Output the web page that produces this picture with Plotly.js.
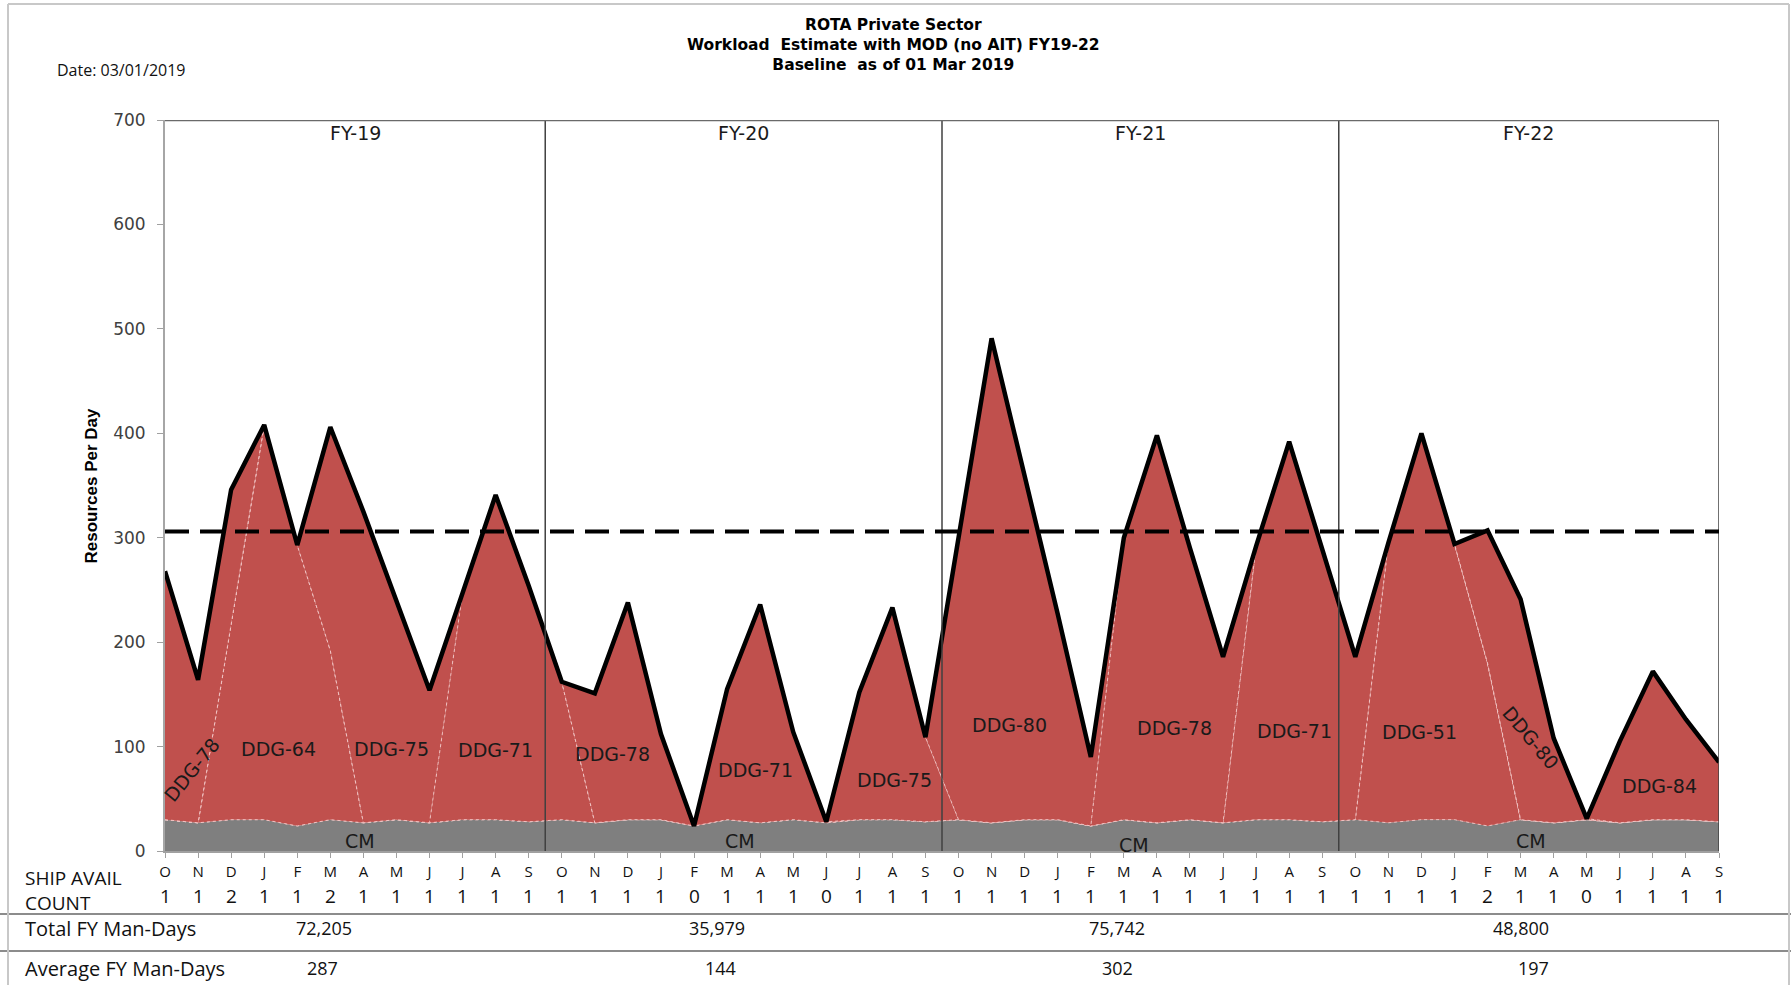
<!DOCTYPE html>
<html><head><meta charset="utf-8">
<script src="https://cdn.plot.ly/plotly-3.0.1.min.js"></script>
<style>html,body{margin:0;padding:0;background:#fff}#chart{width:1791px;height:985px}</style>
</head><body><div id="chart"></div>
<script>
// ---------------- DATA ----------------
const monthLetters = [
  'O','N','D','J','F','M','A','M','J','J','A','S',
  'O','N','D','J','F','M','A','M','J','J','A','S',
  'O','N','D','J','F','M','A','M','J','J','A','S',
  'O','N','D','J','F','M','A','M','J','J','A','S'];
const availCount = [
  1,1,2,1,1,2,1,1,1,1,1,1,
  1,1,1,1,0,1,1,1,0,1,1,1,
  1,1,1,1,1,1,1,1,1,1,1,1,
  1,1,1,1,2,1,1,0,1,1,1,1];
const totalLine = [
  268,164,346,408,293,406,325,240,154,247,341,254,
  162,151,238,112, 24,155,236,114, 28,152,233,109,
  300,491,359,227, 90,300,398,290,186,292,392,288,
  186,295,400,294,307,241,108, 31,105,172,126, 85];
const cm = [
  30,27,30,30,24,30,27,30,27,30,30,28,
  30,27,30,30,24,30,27,30,27,30,30,28,
  30,27,30,30,24,30,27,30,27,30,30,28,
  30,27,30,30,24,30,27,30,27,30,30,28];
const ddg51 = [
  0,0,0,0,0,0,0,0,0,0,0,0,
  0,0,0,0,0,0,0,0,0,0,0,0,
  0,0,0,0,0,0,0,0,0,0,0,0,
  0,268,370,264,156,0,0,0,0,0,0,0];
const ddg64 = [
  0,0,187,378,269,162,0,0,0,0,0,0,
  0,0,0,0,0,0,0,0,0,0,0,0,
  0,0,0,0,0,0,0,0,0,0,0,0,
  0,0,0,0,0,0,0,0,0,0,0,0];
const ddg71 = [
  0,0,0,0,0,0,0,0,0,217,311,226,
  132,0,0,0,0,125,209,84,1,0,0,0,
  0,0,0,0,0,0,0,0,0,262,362,260,
  156,0,0,0,0,0,0,0,0,0,0,0];
const ddg75 = [
  0,0,0,0,0,214,298,210,127,0,0,0,
  0,0,0,0,0,0,0,0,0,122,203,81,
  0,0,0,0,0,0,0,0,0,0,0,0,
  0,0,0,0,0,0,0,0,0,0,0,0];
const ddg78 = [
  238,137,129,0,0,0,0,0,0,0,0,0,
  0,124,208,82,0,0,0,0,0,0,0,0,
  0,0,0,0,0,270,371,260,159,0,0,0,
  0,0,0,0,0,0,0,0,0,0,0,0];
const ddg80 = [
  0,0,0,0,0,0,0,0,0,0,0,0,
  0,0,0,0,0,0,0,0,0,0,0,0,
  270,464,329,197,66,0,0,0,0,0,0,0,
  0,0,0,0,127,211,81,1,0,0,0,0];
const ddg84 = [
  0,0,0,0,0,0,0,0,0,0,0,0,
  0,0,0,0,0,0,0,0,0,0,0,0,
  0,0,0,0,0,0,0,0,0,0,0,0,
  0,0,0,0,0,0,0,0,78,142,96,57];
const capacity = 306;
const fiscalYears = ['FY-19','FY-20','FY-21','FY-22'];
const totalManDays = ['72,205','35,979','75,742','48,800'];
const avgManDays = ['287','144','302','197'];
const shipNames = ['DDG-51','DDG-64','DDG-71','DDG-75','DDG-78','DDG-80','DDG-84'];
const shipSeries = [ddg51, ddg64, ddg71, ddg75, ddg78, ddg80, ddg84];

// ---------------- LAYOUT HELPERS ----------------
const W = 1791, H = 985, L = 165, R = 72, T = 120, B = 134;
const plotW = W - L - R, plotH = H - T - B;
const px = v => (v - L) / plotW;
const py = v => (H - B - v) / plotH;
const xIdx = monthLetters.map((_, i) => i);

const RED = '#C0504D', GRAY = '#7F7F7F';
const sepLine = {color: 'rgba(245,205,205,0.85)', width: 1, dash: '3px,3px'};

const traces = [];
traces.push({x: xIdx, y: cm, type: 'scatter', mode: 'lines', stackgroup: 'one',
  fillcolor: GRAY, line: sepLine, name: 'CM', hoverinfo: 'skip'});
shipSeries.forEach((s, k) => traces.push({x: xIdx, y: s, type: 'scatter', mode: 'lines',
  stackgroup: 'one', fillcolor: RED, line: sepLine, name: shipNames[k], hoverinfo: 'skip'}));
traces.push({x: xIdx, y: totalLine, type: 'scatter', mode: 'lines',
  line: {color: '#000', width: 4.5}, name: 'Total', hoverinfo: 'skip'});

// label placements (layout only)
const shipLabelPos = [
  {t: 'DDG-78', x: 0.8, y: 78, a: -51},
  {t: 'DDG-64', x: 3.42, y: 98, a: 0},
  {t: 'DDG-75', x: 6.86, y: 98, a: 0},
  {t: 'DDG-71', x: 10.0, y: 97, a: 0},
  {t: 'DDG-78', x: 13.52, y: 93, a: 0},
  {t: 'DDG-71', x: 17.86, y: 78, a: 0},
  {t: 'DDG-75', x: 22.05, y: 68, a: 0},
  {t: 'DDG-80', x: 25.54, y: 121, a: 0},
  {t: 'DDG-78', x: 30.53, y: 118, a: 0},
  {t: 'DDG-71', x: 34.15, y: 115, a: 0},
  {t: 'DDG-51', x: 37.94, y: 114, a: 0},
  {t: 'DDG-80', x: 41.31, y: 108, a: 50},
  {t: 'DDG-84', x: 45.2, y: 62, a: 0}
];
const cmLabelPos = [{x: 5.9, y: 10}, {x: 17.4, y: 10}, {x: 29.3, y: 6}, {x: 41.3, y: 10}];
const fyCenters = [5.75, 17.5, 29.5, 41.25];
const totalX = [4.8, 16.7, 28.8, 41.0];
const avgX = [4.77, 16.8, 28.8, 41.4];
const dividers = [11.5, 23.5, 35.5];

const shipFont = {family: 'DejaVu Sans, sans-serif', size: 19, color: '#1a1a1a'};
const tableFont = {family: 'Open Sans, sans-serif', size: 20, color: '#111'};
const numFont = {family: 'Open Sans, sans-serif', size: 18, color: '#111'};

const annotations = [];
function ann(o) { annotations.push(Object.assign({showarrow: false, xanchor: 'center', yanchor: 'middle'}, o)); }
shipLabelPos.forEach(p => ann({x: p.x, y: p.y, xref: 'x', yref: 'y', text: p.t, textangle: p.a, font: shipFont}));
cmLabelPos.forEach(p => ann({x: p.x, y: p.y, xref: 'x', yref: 'y', text: 'CM', font: shipFont}));
fiscalYears.forEach((f, i) => ann({x: fyCenters[i], y: 688, xref: 'x', yref: 'y', text: f,
  font: {family: 'DejaVu Sans, sans-serif', size: 19, color: '#1a1a1a'}}));
availCount.forEach((c, i) => ann({x: i, y: py(896), xref: 'x', yref: 'paper', text: String(c),
  font: {family: 'Open Sans, sans-serif', size: 19, color: '#111'}}));
totalManDays.forEach((v, i) => ann({x: totalX[i], y: py(928), xref: 'x', yref: 'paper', text: v, font: numFont}));
avgManDays.forEach((v, i) => ann({x: avgX[i], y: py(968), xref: 'x', yref: 'paper', text: v, font: numFont}));
ann({x: px(23), y: py(891), xref: 'paper', yref: 'paper', xanchor: 'left', align: 'left',
  text: 'SHIP AVAIL<br>COUNT', font: {family: 'Open Sans, sans-serif', size: 19, color: '#111'}});
ann({x: px(23), y: py(928), xref: 'paper', yref: 'paper', xanchor: 'left', text: 'Total FY Man-Days', font: tableFont});
ann({x: px(23), y: py(968), xref: 'paper', yref: 'paper', xanchor: 'left', text: 'Average FY Man-Days', font: tableFont});
ann({x: px(55), y: py(70), xref: 'paper', yref: 'paper', xanchor: 'left', text: 'Date: 03/01/2019',
  font: {family: 'Open Sans, sans-serif', size: 16, color: '#111'}});
ann({x: px(91), y: 0.5, xref: 'paper', yref: 'paper', textangle: -90, text: '<b>Resources Per Day</b>',
  font: {family: 'Liberation Sans Narrow, Liberation Sans, sans-serif', size: 17, color: '#000'}});
const titleText = '<b>ROTA Private Sector</b><br><b>Workload  Estimate with MOD (no AIT) FY19-22</b><br><b>Baseline  as of 01 Mar 2019</b>';
ann({x: px(893), y: py(45), xref: 'paper', yref: 'paper', text: titleText,
  font: {family: 'DejaVu Sans, sans-serif', size: 15.5, color: '#000'}});

const shapes = [];
dividers.forEach(d => shapes.push({type: 'line', xref: 'x', yref: 'y', x0: d, x1: d, y0: 0, y1: 700,
  line: {color: '#404040', width: 1.5}}));
shapes.push({type: 'line', xref: 'x', yref: 'y', x0: 47, x1: 47, y0: 0, y1: 700,
  line: {color: '#404040', width: 1.5}});
shapes.push({type: 'line', xref: 'x', yref: 'y', x0: 0, x1: 47, y0: 700, y1: 700,
  line: {color: '#6a6a6a', width: 2.5}});
shapes.push({type: 'line', xref: 'x', yref: 'y', x0: 0, x1: 47, y0: capacity, y1: capacity,
  line: {color: '#000', width: 4, dash: '24px,11px'}});
[914, 951].forEach(v => shapes.push({type: 'line', xref: 'paper', yref: 'paper',
  x0: px(0), x1: px(W), y0: py(v), y1: py(v), line: {color: '#8c8c8c', width: 2}}));
// outer frame
shapes.push({type: 'line', xref: 'paper', yref: 'paper', x0: px(8), x1: px(8), y0: py(4), y1: py(H),
  line: {color: '#c8c8c8', width: 2}});
shapes.push({type: 'line', xref: 'paper', yref: 'paper', x0: px(8), x1: px(1789), y0: py(4), y1: py(4),
  line: {color: '#c8c8c8', width: 2}});
shapes.push({type: 'line', xref: 'paper', yref: 'paper', x0: px(1789), x1: px(1789), y0: py(4), y1: py(H),
  line: {color: '#c8c8c8', width: 2}});

const layout = {
  width: W, height: H,
  margin: {l: L, r: R, t: T, b: B},
  paper_bgcolor: '#fff', plot_bgcolor: '#fff',
  showlegend: false,
  xaxis: {
    range: [0, 47], tickmode: 'array', tickvals: xIdx, ticktext: monthLetters,
    ticks: 'outside', ticklen: 5, tickcolor: '#a0a0a0', showline: true, linecolor: '#a0a0a0',
    linewidth: 1.5, showgrid: false, zeroline: false, ticklabelstandoff: 1,
    tickfont: {family: 'Open Sans, sans-serif', size: 15, color: '#111'}
  },
  yaxis: {
    range: [0, 700], tick0: 0, dtick: 100, ticks: 'outside', ticklen: 6, tickcolor: '#a0a0a0',
    showline: true, linecolor: '#a6a6a6', linewidth: 2, showgrid: false, zeroline: false,
    ticklabelstandoff: 8,
    tickfont: {family: 'DejaVu Sans, sans-serif', size: 17, color: '#404040'}
  },
  annotations: annotations,
  shapes: shapes
};

Plotly.newPlot('chart', traces, layout, {displayModeBar: false, staticPlot: true});
</script>
</body></html>
